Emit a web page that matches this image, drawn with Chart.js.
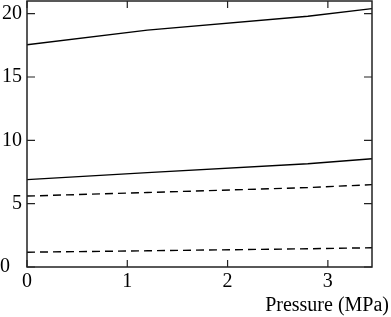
<!DOCTYPE html>
<html>
<head>
<meta charset="utf-8">
<script src="https://cdn.jsdelivr.net/npm/chart.js@4/dist/chart.umd.min.js"></script>
<style>
html,body{margin:0;padding:0;background:#fff;}
#wrap{width:391px;height:317px;position:relative;}
</style>
</head>
<body>
<div id="wrap"><canvas id="c" width="391" height="317"></canvas></div>
<script>
const pressure = [0, 1.2, 2.8, 3.44];
const solidUpper = [17.55, 18.7, 19.8, 20.4];
const solidLower = [6.9, 7.45, 8.15, 8.55];
const dashedUpper = [5.6, 5.88, 6.27, 6.5];
const dashedLower = [1.17, 1.28, 1.44, 1.52];
const xTicks = [0, 1, 2, 3];
const yTicks = [0, 5, 10, 15, 20];
const xTitle = 'Pressure (MPa)';

const FONT = '"Liberation Serif", "Times New Roman", serif';
const pts = arr => pressure.map((p, i) => ({x: p, y: arr[i]}));
const mk = (arr, dash) => ({data: pts(arr), borderColor: '#000', borderWidth: 1.4,
  borderDash: dash, pointRadius: 0, fill: false, tension: 0});

const frame = {
  id: 'frame',
  afterDraw(chart) {
    const {ctx, chartArea: a, scales: {x, y}} = chart;
    ctx.save();
    ctx.strokeStyle = '#222';
    ctx.lineWidth = 1.5;
    ctx.strokeRect(a.left, a.top, a.right - a.left, a.bottom - a.top);
    ctx.lineWidth = 1.2;
    ctx.beginPath();
    xTicks.forEach(v => {
      const px = x.getPixelForValue(v);
      ctx.moveTo(px, a.bottom); ctx.lineTo(px, a.bottom - 7);
      ctx.moveTo(px, a.top); ctx.lineTo(px, a.top + 7);
    });
    yTicks.forEach(v => {
      const py = y.getPixelForValue(v);
      ctx.moveTo(a.left, py); ctx.lineTo(a.left + 8, py);
      ctx.moveTo(a.right, py); ctx.lineTo(a.right - 8, py);
    });
    ctx.stroke();
    ctx.fillStyle = '#000';
    ctx.font = '20px ' + FONT;
    ctx.textAlign = 'right';
    ctx.textBaseline = 'alphabetic';
    ctx.fillText(xTitle, 389, 311);
    ctx.restore();
  }
};

const noPad = s => { s.paddingTop = 0; s.paddingBottom = 0; s.paddingLeft = 0; s.paddingRight = 0; };

new Chart(document.getElementById('c'), {
  type: 'line',
  data: {datasets: [mk(solidUpper, []), mk(solidLower, []), mk(dashedUpper, [8, 5]), mk(dashedLower, [8, 5])]},
  options: {
    responsive: false, animation: false,
    layout: {padding: {top: 1, right: 19, left: 0, bottom: 0}},
    plugins: {legend: {display: false}, tooltip: {enabled: false}},
    scales: {
      x: {type: 'linear', min: 0, max: 3.44,
        afterBuildTicks: s => { s.ticks = xTicks.map(v => ({value: v})); },
        afterFit: s => { s.height = 50; noPad(s); },
        grid: {display: false, drawTicks: false}, border: {display: false},
        ticks: {color: '#000', padding: 3, maxRotation: 0, font: {family: FONT, size: 20}}},
      y: {type: 'linear', min: 0, max: 21,
        afterBuildTicks: s => { s.ticks = yTicks.map(v => ({value: v})); },
        afterFit: s => { s.width = 27; noPad(s); },
        grid: {display: false, drawTicks: false}, border: {display: false},
        ticks: {color: '#000', padding: 5, font: {family: FONT, size: 20},
          callback: v => v === 0 ? '0\u2009\u2009\u2009' : String(v)}}
    }
  },
  plugins: [frame]
});
</script>
</body>
</html>
